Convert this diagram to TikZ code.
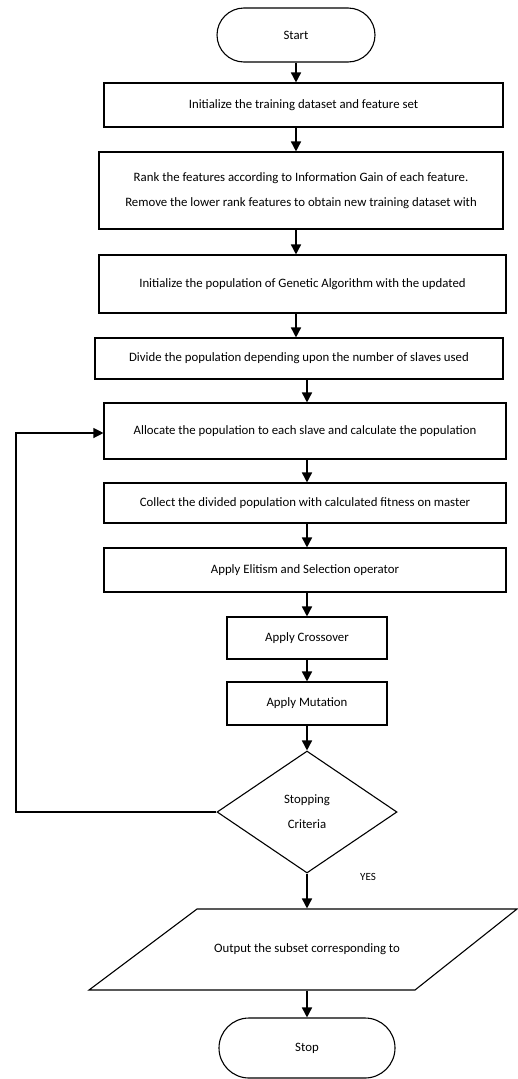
\documentclass[tikz,border=0pt]{standalone}
\usepackage{fontspec}
\setmainfont{Carlito}
\usetikzlibrary{shapes.geometric,arrows.meta}
\begin{document}
\begin{tikzpicture}[x=1pt,y=-1pt,
  box/.style={draw, line width=1.1pt, inner sep=0pt, align=center, font=\fontsize{12.8}{25}\selectfont},
  term/.style={draw, line width=1.1pt, inner sep=0pt, font=\fontsize{12.8}{14}\selectfont},
  dec/.style={draw, diamond, line width=1.1pt, inner sep=0pt, aspect=1.475, minimum width=180pt, minimum height=122pt, align=center, font=\fontsize{12.8}{25}\selectfont},
  arr/.style={line width=1.6pt, -{Triangle[length=10pt,width=10pt]}},
  loopline/.style={line width=1.2pt, -{Triangle[length=10pt,width=10pt]}},
  lbl/.style={font=\fontsize{11}{12}\selectfont, inner sep=0pt}
]
\useasboundingbox (0,0) rectangle (518,1079);

\node[term, rounded corners=27pt, minimum width=158pt, minimum height=54pt] (start) at (296,35) {Start};
\node[box, minimum width=399pt, minimum height=44pt] (b1) at (303.5,105) {Initialize the training dataset and feature set};
\node[box, minimum width=404pt, minimum height=77pt] (b2) at (301,190.5) {Rank the features according to Information Gain of each feature.\\Remove the lower rank features to obtain new training dataset with};
\node[box, minimum width=407pt, minimum height=58pt] (b3) at (302.5,284) {Initialize the population of Genetic Algorithm with the updated};
\node[box, minimum width=408pt, minimum height=41pt] (b4) at (299,358.5) {Divide the population depending upon the number of slaves used};
\node[box, minimum width=402pt, minimum height=56pt] (b5) at (305,431) {Allocate the population to each slave and calculate the population};
\node[box, minimum width=402pt, minimum height=40pt] (b6) at (305,503) {Collect the divided population with calculated fitness on master};
\node[box, minimum width=402pt, minimum height=44pt] (b7) at (305,570) {Apply Elitism and Selection operator};
\node[box, minimum width=160pt, minimum height=42pt] (b8) at (307,638) {Apply Crossover};
\node[box, minimum width=160pt, minimum height=43pt] (b9) at (307,703.5) {Apply Mutation};
\node[dec] (d) at (307,812) {Stopping\\Criteria};
\draw[line width=1.1pt] (197,909) -- (517,909) -- (415,990) -- (89,990) -- cycle;
\node[box, draw=none, minimum width=320pt, minimum height=81pt] (out) at (307,949.5) {Output the subset corresponding to};
\node[term, rounded corners=30pt, minimum width=176pt, minimum height=60pt] (stop) at (307,1048) {Stop};
\node[lbl] (yes) at (368,877) {YES};

\draw[arr] (start.south) -- (b1.north -| start.south);
\draw[arr] (b1.south -| start.south) -- (b2.north -| start.south);
\draw[arr] (b2.south -| start.south) -- (b3.north -| start.south);
\draw[arr] (b3.south -| start.south) -- (b4.north -| start.south);
\draw[arr] (b4.south -| d.north) -- (b5.north -| d.north);
\draw[arr] (b5.south -| d.north) -- (b6.north -| d.north);
\draw[arr] (b6.south -| d.north) -- (b7.north -| d.north);
\draw[arr] (b7.south -| d.north) -- (b8.north);
\draw[arr] (b8.south) -- (b9.north);
\draw[arr] (b9.south) -- (d.north);
\draw[arr] (d.south) -- (out.north);
\draw[arr] (out.south) -- (stop.north);
\coordinate (lb) at (16,812);
\coordinate (lt) at (16,433);
\draw[loopline] (d.west) -- (lb) -- (lt) -- (lt -| b5.west);
\end{tikzpicture}
\end{document}
